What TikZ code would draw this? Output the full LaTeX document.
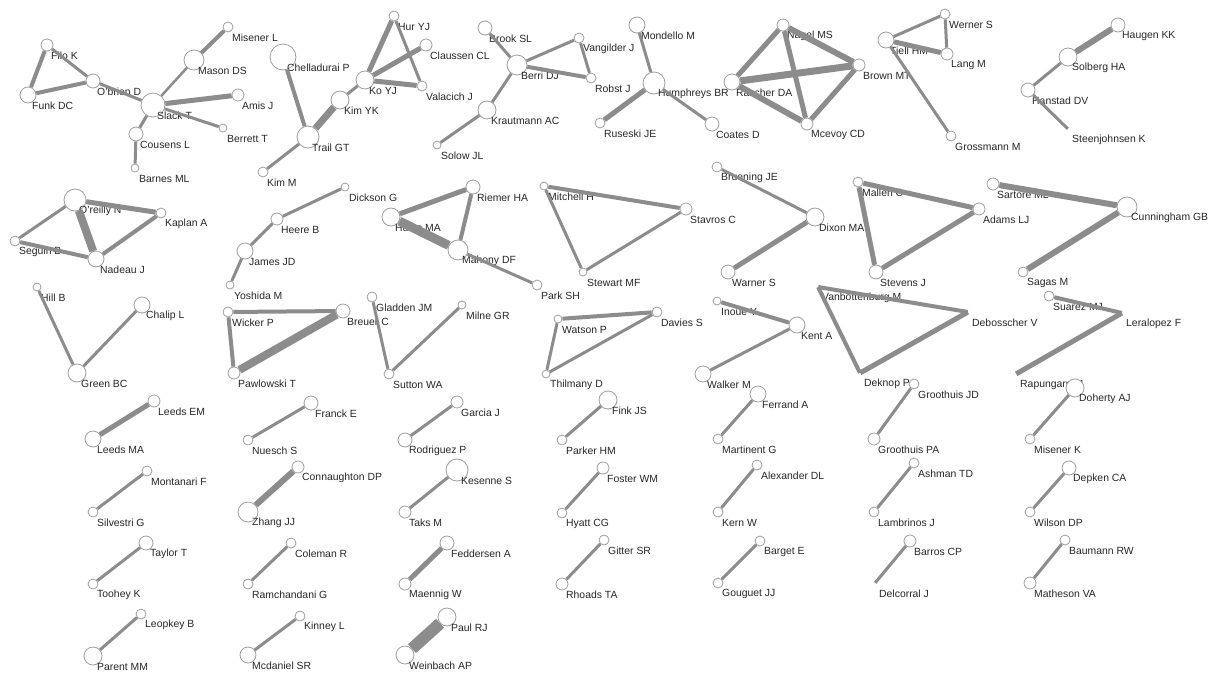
\documentclass[tikz,border=0pt]{standalone}
\usepackage{fontspec}
\setmainfont{Liberation Sans}
\begin{document}
\begin{tikzpicture}[x=1pt,y=-1pt,font=\fontsize{10.4}{12}\selectfont]
  \tikzset{
    author/.style={circle,draw=black!38,fill=white,line width=0.8pt,inner sep=0pt},
    bare/.style={circle,inner sep=0pt,minimum size=0pt},
    authlbl/.style={anchor=west,inner sep=0pt,text=black!85},
    tie/.style={draw=black!45,line cap=butt,line join=miter}
  }
  \useasboundingbox (0,0) rectangle (1211,673);

  % Authors drawn without a circle (edge ends only).
  \foreach \id/\x/\y/\name in {steenjohnsen/1068/129/Steenjohnsen K,
      vanbottenburg/818/287/Vanbottenburg M,debosscher/968/312/Debosscher V,
      deknop/860/373/Deknop P,leralopez/1122/313/Leralopez F,
      rapungarn/1016/374/Rapungarn M,delcorral/875/583/Delcorral J} {
    \node[bare] (\id) at (\x,\y) {};
    \node[authlbl] at (\x+4,\y+11) {\name};
  }

  % Authors of the larger components; last value is the circle radius.
  \foreach \id/\x/\y/\r/\name in {filo/47/45/6/Filo K,funk/28/95/8/Funk DC,
      obrien/93/81/7/O'brien D,slack/153/105/12/Slack T,mason/194/60/10/Mason DS,
      misenerl/228/27/5/Misener L,amis/238/95/6/Amis J,berrett/223/128/4/Berrett T,
      cousens/136/134/7/Cousens L,barnes/135/168/4/Barnes ML,
      chelladurai/283/57/13/Chelladurai P,trail/308/137/11/Trail GT,kimm/263/172/5/Kim M,
      huryj/394/16/5/Hur YJ,claussen/426/45/6/Claussen CL,koyj/365/80/9/Ko YJ,
      valacich/422/86/5/Valacich J,kimyk/340/100/9/Kim YK,
      brook/485/28/7/Brook SL,berri/517/65/10/Berri DJ,vangilder/579/38/5/Vangilder J,
      robst/591/78/5/Robst J,krautmann/487/110/9/Krautmann AC,solow/437/145/4/Solow JL,
      mondello/637/25/8/Mondello M,humphreys/654/83/11/Humphreys BR,
      ruseski/600/123/5/Ruseski JE,coates/712/124/7/Coates D,
      nagel/783/25/6/Nagel MS,rascher/732/82/8/Rascher DA,brown/859/65/6/Brown MT,
      mcevoy/807/124/6/Mcevoy CD,werner/945/14/5/Werner S,tiell/886/40/8/Tiell HM,
      lang/947/54/6/Lang M,grossmann/951/136/5/Grossmann M,
      haugen/1118/25/7/Haugen KK,solberg/1068/57/9/Solberg HA,hanstad/1028/90/7/Hanstad DV,
      oreilly/75/200/11/O'reilly N,kaplan/161/213/5/Kaplan A,seguin/15/241/5/Seguin B,
      nadeau/96/259/8/Nadeau J,hill/37/287/4/Hill B,chalip/142/305/8/Chalip L,
      green/77/373/9/Green BC,dickson/345/187/4/Dickson G,heere/277/219/6/Heere B,
      james/245/251/8/James JD,yoshida/230/285/4/Yoshida M,wicker/228/312/5/Wicker P,
      pawlowski/234/373/6/Pawlowski T,breuer/343/311/7/Breuer C,
      riemer/473/187/7/Riemer HA,hums/391/217/9/Hums MA,mahony/458/250/10/Mahony DF,
      park/537/285/5/Park SH,gladden/372/297/5/Gladden JM,milne/462/305/4/Milne GR,
      sutton/389/374/5/Sutton WA,mitchell/544/186/4/Mitchell H,
      stewart/583/272/4/Stewart MF,stavros/686/209/6/Stavros C,
      watson/558/319/4/Watson P,thilmany/546/374/4/Thilmany D,davies/657/312/5/Davies S,
      bruening/717/167/5/Bruening JE,dixon/815/217/9/Dixon MA,warners/728/272/7/Warner S,
      inoue/717/301/4/Inoue Y,kent/797/325/8/Kent A,walker/703/374/8/Walker M,
      mallen/858/182/5/Mallen C,adams/979/209/6/Adams LJ,stevens/876/272/7/Stevens J,
      sartore/993/184/6/Sartore ML,cunningham/1127/207/10/Cunningham GB,
      sagas/1023/272/5/Sagas M,suarez/1049/296/5/Suarez MJ} {
    \node[author,minimum size={2*\r}] (\id) at (\x,\y) {};
    \node[authlbl] at (\x+4,\y+11) {\name};
  }

  % Two-author components.
  \foreach \id/\x/\y/\r/\name in {leedsem/154/401/6/Leeds EM,leedsma/93/439/8/Leeds MA,
      franck/311/403/7/Franck E,nuesch/248/440/5/Nuesch S,
      garcia/457/402/6/Garcia J,rodriguez/405/440/7/Rodriguez P,
      fink/608/400/9/Fink JS,parker/562/440/5/Parker HM,
      ferrand/758/394/8/Ferrand A,martinent/718/439/5/Martinent G,
      groothuisjd/914/384/5/Groothuis JD,groothuispa/874/439/6/Groothuis PA,
      doherty/1075/388/9/Doherty AJ,misenerk/1030/439/5/Misener K,
      montanari/147/471/5/Montanari F,silvestri/93/512/5/Silvestri G,
      connaughton/298/467/6/Connaughton DP,zhang/248/512/10/Zhang JJ,
      kesenne/457/470/11/Kesenne S,taks/405/512/6/Taks M,
      foster/603/468/6/Foster WM,hyatt/562/513/5/Hyatt CG,
      alexander/757/465/5/Alexander DL,kern/718/512/5/Kern W,
      ashman/914/463/5/Ashman TD,lambrinos/874/512/5/Lambrinos J,
      depken/1069/468/7/Depken CA,wilson/1030/512/5/Wilson DP,
      taylor/146/543/7/Taylor T,toohey/93/584/5/Toohey K,
      coleman/291/543/5/Coleman R,ramchandani/248/584/5/Ramchandani G,
      feddersen/447/543/7/Feddersen A,maennig/405/584/6/Maennig W,
      gitter/604/540/5/Gitter SR,rhoads/562/584/6/Rhoads TA,
      barget/760/541/5/Barget E,gouguet/718/583/5/Gouguet JJ,
      barros/910/541/6/Barros CP,
      baumann/1065/540/5/Baumann RW,matheson/1030/583/6/Matheson VA,
      leopkey/141/614/5/Leopkey B,parent/93/656/9/Parent MM,
      kinney/300/616/5/Kinney L,mcdaniel/248/655/8/Mcdaniel SR,
      paul/447/617/9/Paul RJ,weinbach/405/655/9/Weinbach AP} {
    \node[author,minimum size={2*\r}] (\id) at (\x,\y) {};
    \node[authlbl] at (\x+4,\y+11) {\name};
  }

  % Co-authorship ties; width follows the number of joint papers.
  \foreach \a/\b/\w in {filo/funk/4,filo/obrien/3,funk/obrien/4,obrien/slack/3,
      slack/mason/2.5,mason/misenerl/4,slack/amis/5,slack/berrett/3,slack/cousens/3,
      cousens/barnes/3,chelladurai/trail/4,trail/kimm/3,trail/kimyk/7,
      huryj/koyj/5,huryj/valacich/3,koyj/claussen/5,koyj/valacich/5,koyj/kimyk/3,
      brook/berri/3,berri/vangilder/3,berri/robst/4,vangilder/robst/3,
      berri/krautmann/3,krautmann/solow/3,mondello/humphreys/3,humphreys/ruseski/5,
      humphreys/coates/3,nagel/rascher/5,nagel/brown/6,nagel/mcevoy/5,
      rascher/brown/7,rascher/mcevoy/6,brown/mcevoy/5,tiell/werner/3,tiell/lang/5,
      werner/lang/3,tiell/grossmann/3,haugen/solberg/6,solberg/hanstad/3,
      hanstad/steenjohnsen/3,oreilly/kaplan/5,oreilly/seguin/3,oreilly/nadeau/8,
      seguin/nadeau/4,nadeau/kaplan/4,hill/green/3,chalip/green/3,dickson/heere/3,
      heere/james/3,james/yoshida/3,wicker/breuer/4,wicker/pawlowski/4,
      pawlowski/breuer/8,hums/riemer/5,riemer/mahony/4,hums/mahony/9,mahony/park/3,
      gladden/sutton/3,milne/sutton/3,mitchell/stavros/4,mitchell/stewart/3,
      stewart/stavros/3,watson/davies/4,watson/thilmany/3,thilmany/davies/3,
      bruening/dixon/3,dixon/warners/5,inoue/kent/4,kent/walker/3,mallen/adams/5,
      mallen/stevens/5,stevens/adams/5,vanbottenburg/debosscher/4,
      vanbottenburg/deknop/4,deknop/debosscher/5,sartore/cunningham/6,
      cunningham/sagas/6,suarez/leralopez/4,leralopez/rapungarn/5,
      leedsem/leedsma/5,franck/nuesch/3,garcia/rodriguez/3,fink/parker/3,
      ferrand/martinent/3,groothuisjd/groothuispa/3,doherty/misenerk/3,
      montanari/silvestri/3,connaughton/zhang/6,kesenne/taks/3,foster/hyatt/3,
      alexander/kern/3,ashman/lambrinos/3,depken/wilson/3,taylor/toohey/3,
      coleman/ramchandani/3,feddersen/maennig/5,gitter/rhoads/3,barget/gouguet/3,
      barros/delcorral/3,baumann/matheson/3,leopkey/parent/3,kinney/mcdaniel/3,
      paul/weinbach/12} {
    \draw[tie,line width=\w pt] (\a) -- (\b);
  }
\end{tikzpicture}
\end{document}
